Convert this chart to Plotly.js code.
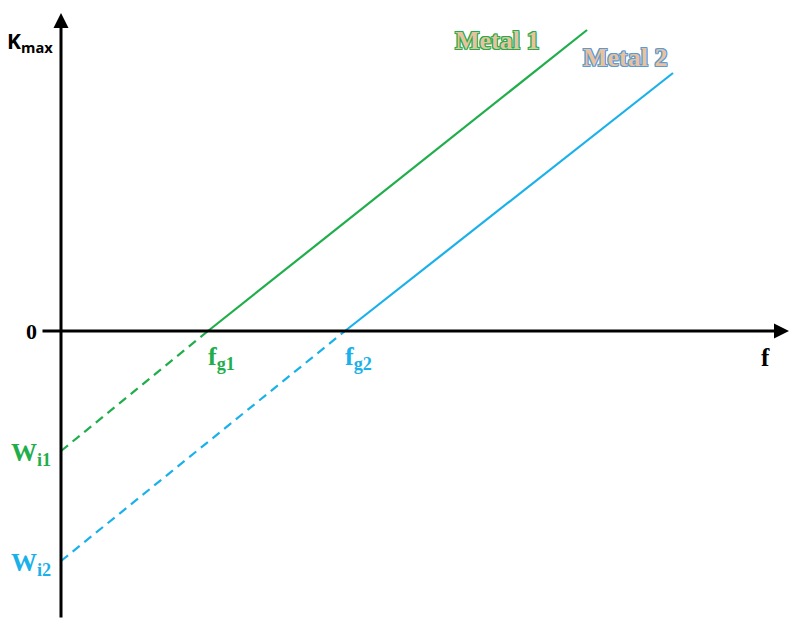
<!DOCTYPE html>
<html>
<head>
<meta charset="utf-8">
<script src="https://cdn.plot.ly/plotly-3.0.1.min.js"></script>
<style>html,body{margin:0;padding:0;background:#fff}</style>
</head>
<body>
<div id="chart" style="width:789px;height:618px"></div>
<script>
// Values (arbitrary units: 1 unit of f, 1 unit of Kmax)
const metals = ['Metal 1', 'Metal 2'];
const workFunction = [-6, -11.5];      // Kmax intercept at f = 0 (W_i)
const threshold = [7.35, 14.2];        // f_g where Kmax = 0
const fEnd = [26.3, 30.6];
const kEnd = [15.05, 12.9];
const colors = ['#1fae4b', '#1ab1ea'];
const outline = ['#1fae4b', '#5b9bd5'];
const thresholdLabels = ['f<sub>g1</sub>', 'f<sub>g2</sub>'];
const workLabels = ['W<sub>i1</sub>', 'W<sub>i2</sub>'];
const fAxisExtent = [-1, 36.4];
const kAxisExtent = [-14.4, 15.9];

const traces = [];
metals.forEach((m, i) => {
  traces.push({
    x: [0, threshold[i]], y: [workFunction[i], 0],
    mode: 'lines', line: {color: colors[i], width: 2.2, dash: '9px,6px'},
    hoverinfo: 'skip', showlegend: false
  });
  traces.push({
    x: [threshold[i], fEnd[i]], y: [0, kEnd[i]],
    mode: 'lines', line: {color: colors[i], width: 2.2},
    name: m, showlegend: false
  });
});

const serif = 'Liberation Serif, Times New Roman, serif';
const shadowFor = c => `1px 0 0 ${c}, -1px 0 0 ${c}, 0 1px 0 ${c}, 0 -1px 0 ${c}, 1px 1px 0 ${c}, -1px -1px 0 ${c}, 1px -1px 0 ${c}, -1px 1px 0 ${c}`;

const annotations = [
  // axes with arrowheads
  {x: fAxisExtent[1], y: 0, ax: fAxisExtent[0], ay: 0, xref: 'x', yref: 'y', axref: 'x', ayref: 'y',
   showarrow: true, arrowhead: 2, arrowsize: 1, arrowwidth: 3, arrowcolor: '#000', text: ''},
  {x: 0, y: kAxisExtent[1], ax: 0, ay: kAxisExtent[0], xref: 'x', yref: 'y', axref: 'x', ayref: 'y',
   showarrow: true, arrowhead: 2, arrowsize: 1, arrowwidth: 3, arrowcolor: '#000', text: ''},
  {x: 0, y: 14.45, xref: 'x', yref: 'y', xanchor: 'right', xshift: -6, showarrow: false,
   text: 'K<sub>max</sub>', font: {family: 'Open Sans, sans-serif', size: 21, color: '#000', weight: 700}},
  {x: 0, y: 0, xref: 'x', yref: 'y', xanchor: 'right', xshift: -22, showarrow: false,
   text: '0', font: {family: serif, size: 22, color: '#000', weight: 700}},
  {x: 35.2, y: -1.3, xref: 'x', yref: 'y', showarrow: false,
   text: 'f', font: {family: serif, size: 25, color: '#000', weight: 700}}
];
metals.forEach((m, i) => {
  annotations.push({x: threshold[i], y: -1.35, xref: 'x', yref: 'y', xanchor: 'left', xshift: -2,
    showarrow: false, text: thresholdLabels[i],
    font: {family: serif, size: 26, color: colors[i], weight: 700}});
  annotations.push({x: 0, y: workFunction[i], xref: 'x', yref: 'y', xanchor: 'right', xshift: -8, yshift: -3,
    showarrow: false, text: workLabels[i],
    font: {family: serif, size: 26, color: colors[i], weight: 700}});
});
annotations.push({x: 21.8, y: 14.55, xref: 'x', yref: 'y', showarrow: false, text: metals[0],
  font: {family: serif, size: 26, color: '#e8c29e', weight: 700, shadow: shadowFor(outline[0])}});
annotations.push({x: 28.2, y: 13.7, xref: 'x', yref: 'y', showarrow: false, text: metals[1],
  font: {family: serif, size: 26, color: '#e8c29e', weight: 700, shadow: shadowFor(outline[1])}});

const layout = {
  width: 789, height: 618, autosize: false,
  margin: {l: 0, r: 0, t: 0, b: 0},
  paper_bgcolor: '#fff', plot_bgcolor: '#fff',
  xaxis: {range: [-3.05, 36.4], visible: false, fixedrange: true},
  yaxis: {range: [-14.35, 16.55], visible: false, fixedrange: true},
  annotations: annotations,
  showlegend: false
};
Plotly.newPlot('chart', traces, layout, {displayModeBar: false, staticPlot: true});
</script>
</body>
</html>
